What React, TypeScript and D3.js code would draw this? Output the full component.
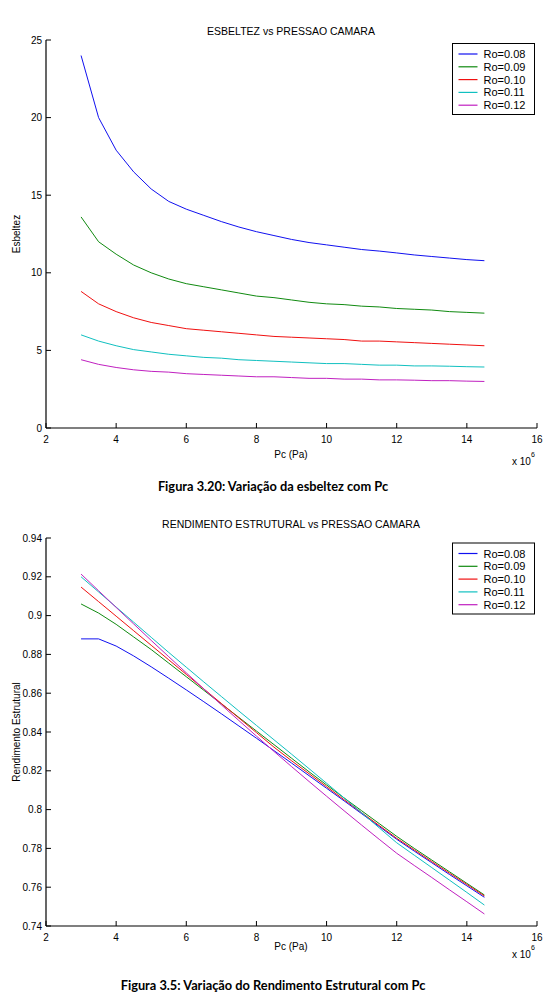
import { useEffect, useRef } from "react";
import * as d3 from "d3";

// Chamber pressure samples (x 10^6 Pa)
const pc = [3, 3.5, 4, 4.5, 5, 5.5, 6, 6.5, 7, 7.5, 8, 8.5, 9, 9.5, 10, 10.5, 11, 11.5, 12, 12.5, 13, 13.5, 14, 14.5];
const roLabels = ["Ro=0.08", "Ro=0.09", "Ro=0.10", "Ro=0.11", "Ro=0.12"];
const roColors = ["#1010f0", "#108a10", "#f01010", "#10c0c0", "#c020c0"];

// Esbeltez per Ro
const esb008 = [24.0, 20.0, 17.9, 16.5, 15.4, 14.6, 14.1, 13.7, 13.3, 12.95, 12.65, 12.4, 12.15, 11.95, 11.8, 11.65, 11.5, 11.4, 11.28, 11.15, 11.05, 10.95, 10.85, 10.78];
const esb009 = [13.6, 12.0, 11.2, 10.5, 10.0, 9.6, 9.3, 9.1, 8.9, 8.7, 8.5, 8.4, 8.25, 8.1, 8.0, 7.95, 7.85, 7.8, 7.7, 7.65, 7.6, 7.5, 7.45, 7.4];
const esb010 = [8.8, 8.0, 7.5, 7.1, 6.8, 6.6, 6.4, 6.3, 6.2, 6.1, 6.0, 5.9, 5.85, 5.8, 5.75, 5.7, 5.6, 5.6, 5.55, 5.5, 5.45, 5.4, 5.35, 5.3];
const esb011 = [6.0, 5.6, 5.3, 5.05, 4.9, 4.75, 4.65, 4.55, 4.5, 4.4, 4.35, 4.3, 4.25, 4.2, 4.15, 4.15, 4.1, 4.05, 4.05, 4.0, 4.0, 3.98, 3.95, 3.93];
const esb012 = [4.4, 4.1, 3.9, 3.75, 3.65, 3.6, 3.5, 3.45, 3.4, 3.35, 3.3, 3.3, 3.25, 3.2, 3.2, 3.15, 3.15, 3.1, 3.1, 3.08, 3.05, 3.05, 3.02, 3.0];

// Rendimento estrutural per Ro
const ren008 = [0.888, 0.888, 0.8843, 0.8792, 0.8736, 0.8677, 0.8617, 0.8556, 0.8494, 0.8431, 0.8368, 0.8304, 0.824, 0.8175, 0.811, 0.8045, 0.7979, 0.7913, 0.7847, 0.7786, 0.7726, 0.7666, 0.7607, 0.7548];
const ren009 = [0.906, 0.9013, 0.8955, 0.889, 0.8825, 0.8755, 0.8685, 0.8615, 0.8545, 0.8475, 0.8405, 0.8335, 0.8265, 0.8195, 0.8127, 0.806, 0.7994, 0.7928, 0.7862, 0.78, 0.774, 0.768, 0.762, 0.756];
const ren010 = [0.9147, 0.9072, 0.8997, 0.8922, 0.8847, 0.8772, 0.8697, 0.8622, 0.8547, 0.8472, 0.8397, 0.8322, 0.8252, 0.8185, 0.8118, 0.8051, 0.7984, 0.7918, 0.7852, 0.7792, 0.7732, 0.7673, 0.7614, 0.7555];
const ren011 = [0.92, 0.9122, 0.9044, 0.8966, 0.8888, 0.881, 0.8734, 0.8658, 0.8583, 0.8508, 0.8434, 0.836, 0.8286, 0.8211, 0.8136, 0.806, 0.7984, 0.7906, 0.7829, 0.7765, 0.7701, 0.7637, 0.7573, 0.7508];
const ren012 = [0.9214, 0.9128, 0.9042, 0.8957, 0.8872, 0.8788, 0.8705, 0.8622, 0.854, 0.8459, 0.8379, 0.83, 0.8222, 0.8145, 0.8069, 0.7994, 0.792, 0.7847, 0.7775, 0.7712, 0.765, 0.7587, 0.7525, 0.7462];

const pcTicks = [2, 4, 6, 8, 10, 12, 14, 16];
const esbTicks = [0, 5, 10, 15, 20, 25];
const renTicks = [0.74, 0.76, 0.78, 0.8, 0.82, 0.84, 0.86, 0.88, 0.9, 0.92, 0.94];

const FONT = "'Liberation Sans', Arial, sans-serif";

type Panel = {
  title: string;
  yLabel: string;
  caption: string;
  top: number;
  bottom: number;
  yDomain: [number, number];
  yTicks: number[];
  series: number[][];
  titleY: number;
  xLabelY: number;
  scaleY: number;
  captionY: number;
  legendTop: number;
};

const panels: Panel[] = [
  {
    title: "ESBELTEZ vs  PRESSAO CAMARA",
    yLabel: "Esbeltez",
    caption: "Figura 3.20: Variação da esbeltez com Pc",
    top: 40, bottom: 428,
    yDomain: [0, 25], yTicks: esbTicks,
    series: [esb008, esb009, esb010, esb011, esb012],
    titleY: 35, xLabelY: 458, scaleY: 465, captionY: 491, legendTop: 43.5,
  },
  {
    title: "RENDIMENTO ESTRUTURAL vs  PRESSAO CAMARA",
    yLabel: "Rendimento Estrutural",
    caption: "Figura 3.5: Variação do Rendimento Estrutural com Pc",
    top: 538, bottom: 926,
    yDomain: [0.74, 0.94], yTicks: renTicks,
    series: [ren008, ren009, ren010, ren011, ren012],
    titleY: 528, xLabelY: 950, scaleY: 958, captionY: 990, legendTop: 543,
  },
];

function drawPanel(svg: d3.Selection<SVGSVGElement, unknown, null, undefined>, p: Panel) {
  const left = 46, right = 537;
  const x = d3.scaleLinear().domain([2, 16]).range([left, right]);
  const y = d3.scaleLinear().domain(p.yDomain).range([p.bottom, p.top]);
  const g = svg.append("g");

  // data lines
  const line = d3.line<number>().x((_, i) => x(pc[i])).y((d) => y(d));
  g.selectAll("path.series").data(p.series).join("path")
    .attr("d", (d) => line(d))
    .attr("fill", "none").attr("stroke", (_, i) => roColors[i]).attr("stroke-width", 1);

  // axes: left and bottom only, ticks pointing inward
  g.append("line").attr("x1", left).attr("x2", left).attr("y1", p.top).attr("y2", p.bottom)
    .attr("stroke", "#000").attr("stroke-width", 1.2);
  g.append("line").attr("x1", left).attr("x2", right).attr("y1", p.bottom).attr("y2", p.bottom)
    .attr("stroke", "#000").attr("stroke-width", 1.2);

  g.selectAll("line.xt").data(pcTicks).join("line")
    .attr("x1", (d) => x(d)).attr("x2", (d) => x(d)).attr("y1", p.bottom).attr("y2", p.bottom - 5)
    .attr("stroke", "#000").attr("stroke-width", 1);
  g.selectAll("line.yt").data(p.yTicks).join("line")
    .attr("x1", left).attr("x2", left + 5).attr("y1", (d) => y(d)).attr("y2", (d) => y(d))
    .attr("stroke", "#000").attr("stroke-width", 1);

  g.selectAll("text.xl").data(pcTicks).join("text")
    .attr("x", (d) => x(d)).attr("y", p.bottom + 15).attr("text-anchor", "middle")
    .attr("font-family", FONT).attr("font-size", 10).attr("fill", "#000").text((d) => String(d));
  g.selectAll("text.yl").data(p.yTicks).join("text")
    .attr("x", left - 4).attr("y", (d) => y(d) + 3.5).attr("text-anchor", "end")
    .attr("font-family", FONT).attr("font-size", 10).attr("fill", "#000").text((d) => String(d));

  // titles and labels
  g.append("text").attr("x", 291).attr("y", p.titleY).attr("text-anchor", "middle")
    .attr("font-family", FONT).attr("font-size", 10.5).text(p.title);
  g.append("text").attr("x", 291).attr("y", p.xLabelY).attr("text-anchor", "middle")
    .attr("font-family", FONT).attr("font-size", 10).text("Pc (Pa)");
  g.append("text").attr("transform", `translate(20,${(p.top + p.bottom) / 2}) rotate(-90)`)
    .attr("text-anchor", "middle").attr("font-family", FONT).attr("font-size", 10).text(p.yLabel);

  const sc = g.append("text").attr("x", 512).attr("y", p.scaleY).attr("font-family", FONT).attr("font-size", 10);
  sc.append("tspan").text("x 10");
  sc.append("tspan").attr("dy", -8).attr("font-size", 7).text("6");

  g.append("text").attr("x", 273).attr("y", p.captionY).attr("text-anchor", "middle")
    .attr("font-family", "Lato, 'Open Sans', sans-serif").attr("font-weight", 700).attr("font-size", 12.8)
    .text(p.caption);

  // legend
  const lg = g.append("g").attr("transform", `translate(452.5,${p.legendTop})`);
  lg.append("rect").attr("width", 82).attr("height", 71).attr("fill", "#fff").attr("stroke", "#000").attr("stroke-width", 1);
  const rows = lg.selectAll("g.row").data(roLabels).join("g")
    .attr("transform", (_, i) => `translate(0,${10.5 + i * 12.8})`);
  rows.append("line").attr("x1", 6).attr("x2", 25).attr("y1", 0).attr("y2", 0)
    .attr("stroke", (_, i) => roColors[i]).attr("stroke-width", 1.2);
  rows.append("text").attr("x", 31).attr("y", 4).attr("font-family", FONT).attr("font-size", 11)
    .text((d) => d);
}

export default function App() {
  const ref = useRef<SVGSVGElement>(null);

  useEffect(() => {
    const el = ref.current;
    if (!el) return;
    const svg = d3.select(el);
    svg.selectAll("*").remove();
    panels.forEach((p) => drawPanel(svg, p));
  }, []);

  return (
    <svg ref={ref} width={546} height={999}
      style={{ position: "absolute", left: 0, top: 0, background: "#fff" }} />
  );
}
